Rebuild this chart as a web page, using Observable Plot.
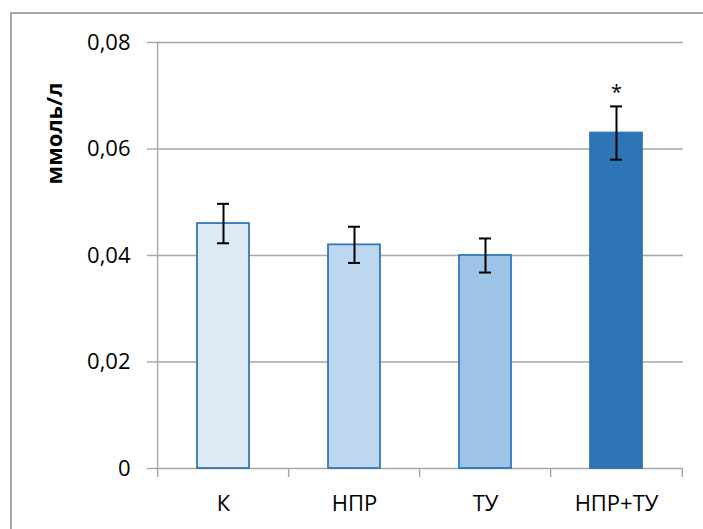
<!DOCTYPE html>
<html>
<head>
<meta charset="utf-8">
<script src="https://cdn.jsdelivr.net/npm/d3@7"></script>
<script src="https://cdn.jsdelivr.net/npm/@observablehq/plot@0.6"></script>
<style>
  html, body { margin: 0; padding: 0; background: #fff; }
  #wrap { position: relative; width: 703px; height: 529px; overflow: hidden; }
  #border { position: absolute; left: 10px; top: 12px; width: 800px; height: 600px;
            border-top: 2px solid #a6a6a6; border-left: 2px solid #a6a6a6; box-sizing: border-box; }
  #chart { position: absolute; left: 0; top: 0; }
</style>
</head>
<body>
<div id="wrap"><div id="border"></div><div id="chart"></div></div>
<script>
// Data
const categories = ["К", "НПР", "ТУ", "НПР+ТУ"];
const values = [0.046, 0.042, 0.040, 0.063];
const errors = [0.0037, 0.0034, 0.0032, 0.0050];
const significance = ["", "", "", "*"];
const yTicks = [0, 0.02, 0.04, 0.06, 0.08];
const yTickLabels = ["0", "0,02", "0,04", "0,06", "0,08"];
const yLabel = "ммоль/л";

const data = categories.map((c, i) => ({
  cat: c, value: values[i], lo: values[i] - errors[i], hi: values[i] + errors[i], mark: significance[i]
}));

const W = 703, H = 529, mL = 156, mR = 20, mT = 42, mB = 61;
const step = (W - mL - mR) / categories.length;
const font = "'Open Sans', 'Noto Sans', sans-serif";
const gray = "#a6a6a6";

const chart = Plot.plot({
  width: W, height: H,
  marginLeft: mL, marginRight: mR, marginTop: mT, marginBottom: mB,
  style: { fontFamily: font, fontSize: "22px", color: "black", background: "transparent" },
  x: { domain: categories, paddingInner: 0.6, paddingOuter: 0.3, label: null },
  y: { domain: [0, 0.08], label: null },
  color: { domain: categories, range: ["#deebf7", "#bdd7ee", "#9dc3e6", "#2e75b6"] },
  marks: [
    // gridlines incl. baseline
    Plot.ruleY(yTicks, { stroke: gray, strokeWidth: 1.4 }),
    // y-axis line
    Plot.ruleX([categories[0]], { x: d => d, y1: 0, y2: 0.08, dx: -step / 2, stroke: gray, strokeWidth: 1.4 }),
    // x category boundary ticks
    Plot.ruleX(categories, { x: d => d, y1: 0, y2: 0, insetBottom: -9, dx: -step / 2, stroke: gray, strokeWidth: 1.4 }),
    Plot.ruleX([categories[categories.length - 1]], { x: d => d, y1: 0, y2: 0, insetBottom: -9, dx: step / 2, stroke: gray, strokeWidth: 1.4 }),
    Plot.axisY({ ticks: yTicks, tickFormat: (d, i) => yTickLabels[yTicks.indexOf(d)], tickSize: 9, tickPadding: 17,
                 stroke: gray, strokeWidth: 1.4, fill: "black", fontSize: 22, label: null }),
    Plot.axisX({ tickSize: 0, tickPadding: 27, fill: "black", fontSize: 22, label: null }),
    Plot.barY(data, { x: "cat", y: "value", fill: "cat", stroke: "#2e75b6", strokeWidth: 1.75 }),
    Plot.ruleX(data, { x: "cat", y1: "lo", y2: "hi", stroke: "black", strokeWidth: 2 }),
    Plot.tickY(data, { x: "cat", y: "lo", stroke: "black", strokeWidth: 2, insetLeft: 20, insetRight: 20 }),
    Plot.tickY(data, { x: "cat", y: "hi", stroke: "black", strokeWidth: 2, insetLeft: 20, insetRight: 20 }),
    Plot.text(data, { x: "cat", y: "hi", text: "mark", dy: -14, fontSize: 20, fill: "black" }),
    Plot.text([yLabel], { text: d => d, frameAnchor: "top-left", rotate: -90, dx: 54 - mL, dy: 133 - mT,
                          fontSize: 22, fontWeight: "bold", fill: "black", textAnchor: "middle", lineAnchor: "middle" })
  ]
});
document.getElementById("chart").appendChild(chart);
</script>
</body>
</html>
